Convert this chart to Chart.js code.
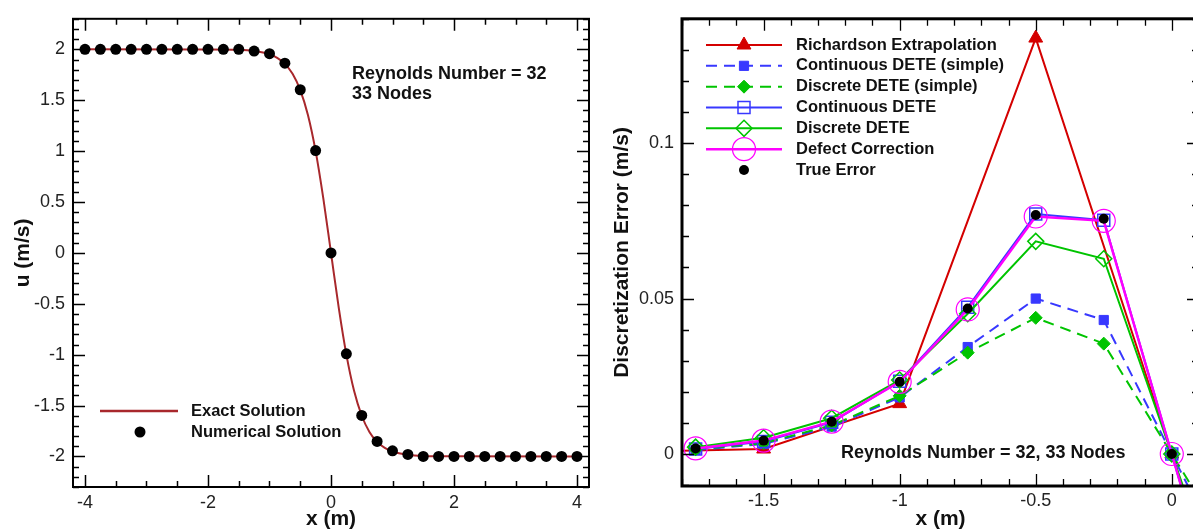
<!DOCTYPE html>
<html>
<head>
<meta charset="utf-8">
<script src="https://cdn.jsdelivr.net/npm/chart.js@4.4.0/dist/chart.umd.min.js"></script>
<style>
  html, body { margin: 0; padding: 0; background: #fff; overflow: hidden; }
  #leftChart { position: absolute; left: 0; top: 0; }
  #rightChart { position: absolute; left: 600px; top: 0; }
</style>
</head>
<body>
<canvas id="leftChart" width="600" height="531"></canvas>
<canvas id="rightChart" width="620" height="531"></canvas>
<script>
// ---- left plot: velocity profile, 33 nodes
const nodeX = [-4, -3.75, -3.5, -3.25, -3, -2.75, -2.5, -2.25, -2, -1.75, -1.5, -1.25, -1, -0.75, -0.5, -0.25,
  0, 0.25, 0.5, 0.75, 1, 1.25, 1.5, 1.75, 2, 2.25, 2.5, 2.75, 3, 3.25, 3.5, 3.75, 4];
const numericalU = [2, 2, 2, 2, 2, 2, 2, 2, 2, 2, 2, 1.983, 1.957, 1.864, 1.603, 1.005,
  0, -0.992, -1.597, -1.852, -1.944, -1.98, -2, -2, -2, -2, -2, -2, -2, -2, -2, -2, -2];
const exactX = [-4, -2, -1.5, -1.25, -1, -0.875, -0.75, -0.625, -0.5, -0.375, -0.25, -0.125,
  0, 0.125, 0.25, 0.375, 0.5, 0.625, 0.75, 0.875, 1, 1.25, 1.5, 2, 4];
const exactU = [2, 1.999, 1.995, 1.983, 1.951, 1.916, 1.857, 1.759, 1.6, 1.355, 1.0, 0.536,
  0, -0.536, -1.0, -1.355, -1.6, -1.759, -1.857, -1.916, -1.951, -1.983, -1.995, -1.999, -2];
const uTicksX = [-4, -2, 0, 2, 4];
const uTicksY = [-2, -1.5, -1, -0.5, 0, 0.5, 1, 1.5, 2];

// ---- right plot: discretization error
const errX = [-1.75, -1.5, -1.25, -1, -0.75, -0.5, -0.25, 0, 0.25];
const richX = [-2, -1.5, -1, -0.5, 0, 0.5];
const richardson = [0.0006, 0.0016, 0.0162, 0.1338, 0, -0.1338];
const contSimple = [0.0013, 0.0032, 0.0088, 0.0182, 0.0344, 0.0500, 0.0431, 0, -0.0431];
const discSimple = [0.0015, 0.0035, 0.0092, 0.0187, 0.0326, 0.0438, 0.0355, 0, -0.0355];
const contDete = [0.0016, 0.0040, 0.0102, 0.0234, 0.0472, 0.0772, 0.0752, 0, -0.0752];
const discDete = [0.0022, 0.0052, 0.0115, 0.0238, 0.0451, 0.0684, 0.0628, 0, -0.0628];
const defectCorr = [0.0018, 0.0043, 0.0104, 0.0232, 0.0465, 0.0764, 0.0750, 0, -0.0750];
const trueError = [0.0018, 0.0043, 0.0104, 0.0232, 0.0468, 0.0769, 0.0757, 0, -0.0757];
const errTicksX = [-1.5, -1, -0.5, 0];
const errTicksY = [0, 0.05, 0.1];

const FONT = "'Liberation Sans', Arial, Helvetica, sans-serif";

function pts(xs, ys) {
  return xs.map((x, i) => ({ x: x, y: ys[i] }));
}

function marker(ctx, style, x, y, r, fill, stroke, lw) {
  ctx.beginPath();
  if (style === 'circle') {
    ctx.arc(x, y, r, 0, Math.PI * 2);
  } else if (style === 'rect') {
    const s = r * Math.SQRT1_2;
    ctx.rect(x - s, y - s, 2 * s, 2 * s);
  } else if (style === 'rectRot') {
    ctx.moveTo(x, y - r); ctx.lineTo(x + r, y); ctx.lineTo(x, y + r); ctx.lineTo(x - r, y);
    ctx.closePath();
  } else if (style === 'triangle') {
    const h = r * Math.sin(Math.PI / 3);
    ctx.moveTo(x, y - r); ctx.lineTo(x + h, y + r / 2); ctx.lineTo(x - h, y + r / 2);
    ctx.closePath();
  }
  if (fill && fill !== 'transparent') { ctx.fillStyle = fill; ctx.fill(); }
  if (stroke) { ctx.strokeStyle = stroke; ctx.lineWidth = lw; ctx.stroke(); }
}

// inward tick marks on all four sides + heavy frame
function framePlugin(o) {
  return {
    id: 'frame' + o.name,
    afterDraw(chart) {
      const { ctx, chartArea: a } = chart;
      const sx = chart.scales.x, sy = chart.scales.y;
      ctx.save();
      ctx.strokeStyle = '#000';
      ctx.lineWidth = o.tickWidth;
      const isMajor = (list, v) => list.some(m => Math.abs(m - v) < 1e-9);
      const ticks = (scale, major, step, fn) => {
        const i0 = Math.ceil(scale.min / step - 1e-9), i1 = Math.floor(scale.max / step + 1e-9);
        for (let i = i0; i <= i1; i++) {
          const v = i * step;
          fn(Math.round(scale.getPixelForValue(v)) + 0.5, isMajor(major, v) ? o.majorLen : o.minorLen);
        }
      };
      ctx.beginPath();
      ticks(sx, o.majorX, o.stepX, (p, len) => {
        ctx.moveTo(p, a.bottom); ctx.lineTo(p, a.bottom - len);
        ctx.moveTo(p, a.top); ctx.lineTo(p, a.top + len);
      });
      ticks(sy, o.majorY, o.stepY, (p, len) => {
        ctx.moveTo(a.left, p); ctx.lineTo(a.left + len, p);
        ctx.moveTo(a.right, p); ctx.lineTo(a.right - len, p);
      });
      ctx.stroke();
      ctx.lineWidth = o.frameWidth;
      ctx.strokeRect(a.left, a.top, a.right - a.left, a.bottom - a.top);
      ctx.restore();
    }
  };
}

function axes(xMin, xMax, yMin, yMax, xt, yt, yTitle, yWidth, xHeight, fontSize, xPad) {
  return {
    x: {
      type: 'linear', min: xMin, max: xMax,
      grid: { display: false, drawTicks: false }, border: { display: false },
      afterBuildTicks: s => { s.ticks = xt.map(v => ({ value: v })); },
      afterFit: s => { s.height = xHeight; },
      ticks: { padding: xPad, color: '#222', maxRotation: 0, autoSkip: false,
        font: { family: FONT, size: fontSize }, callback: v => String(v) },
      title: { display: true, text: 'x (m)', color: '#111', padding: { top: 0, bottom: 1.5 },
        font: { family: FONT, size: 21, weight: 'bold', lineHeight: 1 } }
    },
    y: {
      type: 'linear', min: yMin, max: yMax,
      grid: { display: false, drawTicks: false }, border: { display: false },
      afterBuildTicks: s => { s.ticks = yt.map(v => ({ value: v })); },
      afterFit: s => { s.width = yWidth; },
      ticks: { padding: 8, color: '#222', autoSkip: false,
        font: { family: FONT, size: fontSize }, callback: v => String(v) },
      title: { display: true, text: yTitle, color: '#111', padding: { top: 12, bottom: 0 },
        font: { family: FONT, size: 21, weight: 'bold', lineHeight: 1 } }
    }
  };
}

// ---------- left chart
const exactColor = '#a8282c';
new Chart(document.getElementById('leftChart'), {
  type: 'scatter',
  data: {
    datasets: [
      { label: 'Numerical Solution', data: pts(nodeX, numericalU), showLine: false,
        pointStyle: 'circle', pointRadius: 5.5, pointBackgroundColor: '#000', pointBorderColor: '#000', pointBorderWidth: 0 },
      { label: 'Exact Solution', data: pts(exactX, exactU), showLine: true, pointRadius: 0,
        borderColor: exactColor, borderWidth: 2, cubicInterpolationMode: 'monotone' }
    ]
  },
  options: {
    responsive: false, animation: false, devicePixelRatio: 1,
    layout: { padding: { left: 1, top: 15, right: 11, bottom: 0 } },
    scales: axes(-4.195, 4.195, -2.3, 2.3, uTicksX, uTicksY, 'u (m/s)', 72, 44, 18, 5),
    plugins: { legend: { display: false }, tooltip: { enabled: false } }
  },
  plugins: [framePlugin({ name: 'L', majorX: uTicksX, majorY: uTicksY, stepX: 0.5, stepY: 0.1,
    majorLen: 12, minorLen: 6, tickWidth: 1.5, frameWidth: 2 }), {
    id: 'leftText',
    afterDatasetsDraw(chart) {
      const ctx = chart.ctx;
      ctx.save();
      ctx.fillStyle = '#111';
      ctx.textBaseline = 'middle';
      ctx.font = 'bold 18px ' + FONT;
      ctx.fillText('Reynolds Number = 32', 352, 74);
      ctx.fillText('33 Nodes', 352, 94);
      // legend
      ctx.font = 'bold 16.5px ' + FONT;
      ctx.strokeStyle = exactColor; ctx.lineWidth = 2.5;
      ctx.beginPath(); ctx.moveTo(100, 411); ctx.lineTo(178, 411); ctx.stroke();
      marker(ctx, 'circle', 140, 432, 5.5, '#000', null, 0);
      ctx.fillStyle = '#111';
      ctx.fillText('Exact Solution', 191, 411);
      ctx.fillText('Numerical Solution', 191, 432);
      ctx.restore();
    }
  }]
});

// ---------- right chart
const RED = '#d40000', BLUE = '#3838ff', GREEN = '#00c400', MAGENTA = '#ff00ff';
const errSeries = [
  { label: 'Richardson Extrapolation', data: pts(richX, richardson), borderColor: RED, borderWidth: 2,
    pointStyle: 'triangle', pointRadius: 8, pointBackgroundColor: RED, pointBorderColor: RED, pointBorderWidth: 1 },
  { label: 'Continuous DETE (simple)', data: pts(errX, contSimple), borderColor: BLUE, borderWidth: 2, borderDash: [11, 7],
    pointStyle: 'rect', pointRadius: 6.5, pointBackgroundColor: BLUE, pointBorderColor: BLUE, pointBorderWidth: 1 },
  { label: 'Discrete DETE (simple)', data: pts(errX, discSimple), borderColor: GREEN, borderWidth: 2, borderDash: [11, 7],
    pointStyle: 'rectRot', pointRadius: 6.5, pointBackgroundColor: GREEN, pointBorderColor: GREEN, pointBorderWidth: 1 },
  { label: 'Continuous DETE', data: pts(errX, contDete), borderColor: BLUE, borderWidth: 2,
    pointStyle: 'rect', pointRadius: 8.5, pointBackgroundColor: 'transparent', pointBorderColor: BLUE, pointBorderWidth: 1.5 },
  { label: 'Discrete DETE', data: pts(errX, discDete), borderColor: GREEN, borderWidth: 2,
    pointStyle: 'rectRot', pointRadius: 8, pointBackgroundColor: 'transparent', pointBorderColor: GREEN, pointBorderWidth: 1.5 },
  { label: 'Defect Correction', data: pts(errX, defectCorr), borderColor: MAGENTA, borderWidth: 2.5,
    pointStyle: 'circle', pointRadius: 11.5, pointBackgroundColor: 'transparent', pointBorderColor: MAGENTA, pointBorderWidth: 1.2 },
  { label: 'True Error', data: pts(errX, trueError), showLine: false,
    pointStyle: 'circle', pointRadius: 5, pointBackgroundColor: '#000', pointBorderColor: '#000', pointBorderWidth: 0 }
];
errSeries.forEach(d => { if (d.showLine === undefined) d.showLine = true; });

new Chart(document.getElementById('rightChart'), {
  type: 'scatter',
  data: { datasets: errSeries.slice().reverse() },
  options: {
    responsive: false, animation: false, devicePixelRatio: 1,
    layout: { padding: { left: 0, top: 10, right: 21, bottom: 0 } },
    scales: axes(-1.8, 0.1, -0.0103, 0.14, errTicksX, errTicksY, 'Discretization Error (m/s)', 82, 45, 18, 4),
    plugins: { legend: { display: false }, tooltip: { enabled: false } }
  },
  plugins: [framePlugin({ name: 'R', majorX: errTicksX, majorY: errTicksY, stepX: 0.1, stepY: 0.01,
    majorLen: 12, minorLen: 7, tickWidth: 1.3, frameWidth: 3 }), {
    id: 'rightText',
    afterDatasetsDraw(chart) {
      const ctx = chart.ctx;
      ctx.save();
      ctx.textBaseline = 'middle';
      errSeries.forEach((d, i) => {
        const y = 45 + i * 20.83;
        if (d.showLine) {
          ctx.strokeStyle = d.borderColor; ctx.lineWidth = d.borderWidth;
          ctx.setLineDash(d.borderDash || []);
          ctx.beginPath(); ctx.moveTo(106, y); ctx.lineTo(182, y); ctx.stroke();
          ctx.setLineDash([]);
        }
        marker(ctx, d.pointStyle, 144, y, d.pointRadius, d.pointBackgroundColor, d.pointBorderColor, d.pointBorderWidth || 0.01);
        ctx.fillStyle = '#111';
        ctx.font = 'bold 16.5px ' + FONT;
        ctx.fillText(d.label, 196, y);
      });
      ctx.font = 'bold 18px ' + FONT;
      ctx.fillText('Reynolds Number = 32, 33 Nodes', 241, 453);
      ctx.restore();
    }
  }]
});
</script>
</body>
</html>
